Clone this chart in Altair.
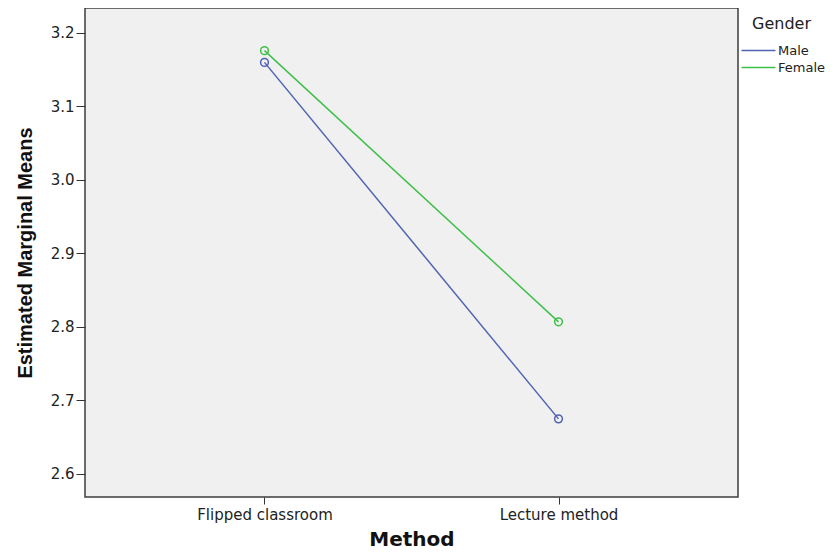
import altair as alt
import pandas as pd

methods = ["Flipped classroom", "Lecture method"]
genders = ["Male", "Female"]
male_means = [3.160, 2.675]
female_means = [3.176, 2.807]
y_ticks = [2.6, 2.7, 2.8, 2.9, 3.0, 3.1, 3.2]
colors = ["#4f63b3", "#3fbf4a"]

rows = []
for g, vals in zip(genders, [male_means, female_means]):
    for m, v in zip(methods, vals):
        rows.append({"Method": m, "Gender": g, "Mean": v})
df = pd.DataFrame(rows)

color_scale = alt.Scale(domain=genders, range=colors)

x_enc = alt.X(
    "Method:N",
    sort=methods,
    scale=alt.Scale(type="point", padding=0.6105),
    axis=alt.Axis(
        title="Method",
        labelAngle=0,
        labelFont="DejaVu Sans",
        labelFontSize=15,
        labelColor="#222222",
        labelPadding=3,
        tickSize=7,
        tickColor="#333333",
        domain=False,
        titleFont="DejaVu Sans",
        titleFontSize=20,
        titleFontWeight="bold",
        titleColor="#111111",
        titleBaseline="alphabetic",
        titleY=48,
    ),
)
y_enc = alt.Y(
    "Mean:Q",
    scale=alt.Scale(domain=[2.5687, 3.234], nice=False, zero=False),
    axis=alt.Axis(
        title="Estimated Marginal Means",
        values=y_ticks,
        format=".1f",
        grid=False,
        labelFont="DejaVu Sans",
        labelFontSize=15,
        labelColor="#222222",
        labelPadding=2,
        tickSize=9,
        tickColor="#333333",
        domain=False,
        titleFont="Liberation Sans",
        titleFontSize=20,
        titleFontWeight="bold",
        titleColor="#111111",
        titleBaseline="alphabetic",
        titleAngle=270,
        titleX=-54,
    ),
)

legend = alt.Legend(
    title="Gender",
    orient="none",
    legendX=667,
    legendY=8,
    titleFont="DejaVu Sans",
    titleFontSize=16,
    titleFontWeight="normal",
    titleColor="#222222",
    titleAnchor="start",
    titlePadding=12,
    labelFont="DejaVu Sans",
    labelFontSize=13,
    labelColor="#222222",
    labelOffset=13,
    symbolType="M-4,0H4",
    symbolSize=72,
    symbolStrokeWidth=1.5,
    rowPadding=3,
    padding=0,
)

lines = alt.Chart(df).mark_line(strokeWidth=1.5).encode(
    x=x_enc,
    y=y_enc,
    color=alt.Color("Gender:N", scale=color_scale, legend=legend),
)
points = alt.Chart(df).mark_point(filled=False, size=60, strokeWidth=1.5, opacity=1).encode(
    x=x_enc,
    y=y_enc,
    color=alt.Color("Gender:N", scale=color_scale, legend=None),
)

chart = (
    alt.layer(lines, points)
    .properties(
        width=653,
        height=489,
        autosize=alt.AutoSizeParams(type="none"),
        padding={"left": 77, "top": 0, "right": 89, "bottom": 52},
        background="white",
    )
    .configure_view(fill="#F0F0F0", stroke="#3c3c3c", strokeWidth=1.5)
)

chart.save("out.html", embed_options={"renderer": "svg", "actions": False})
